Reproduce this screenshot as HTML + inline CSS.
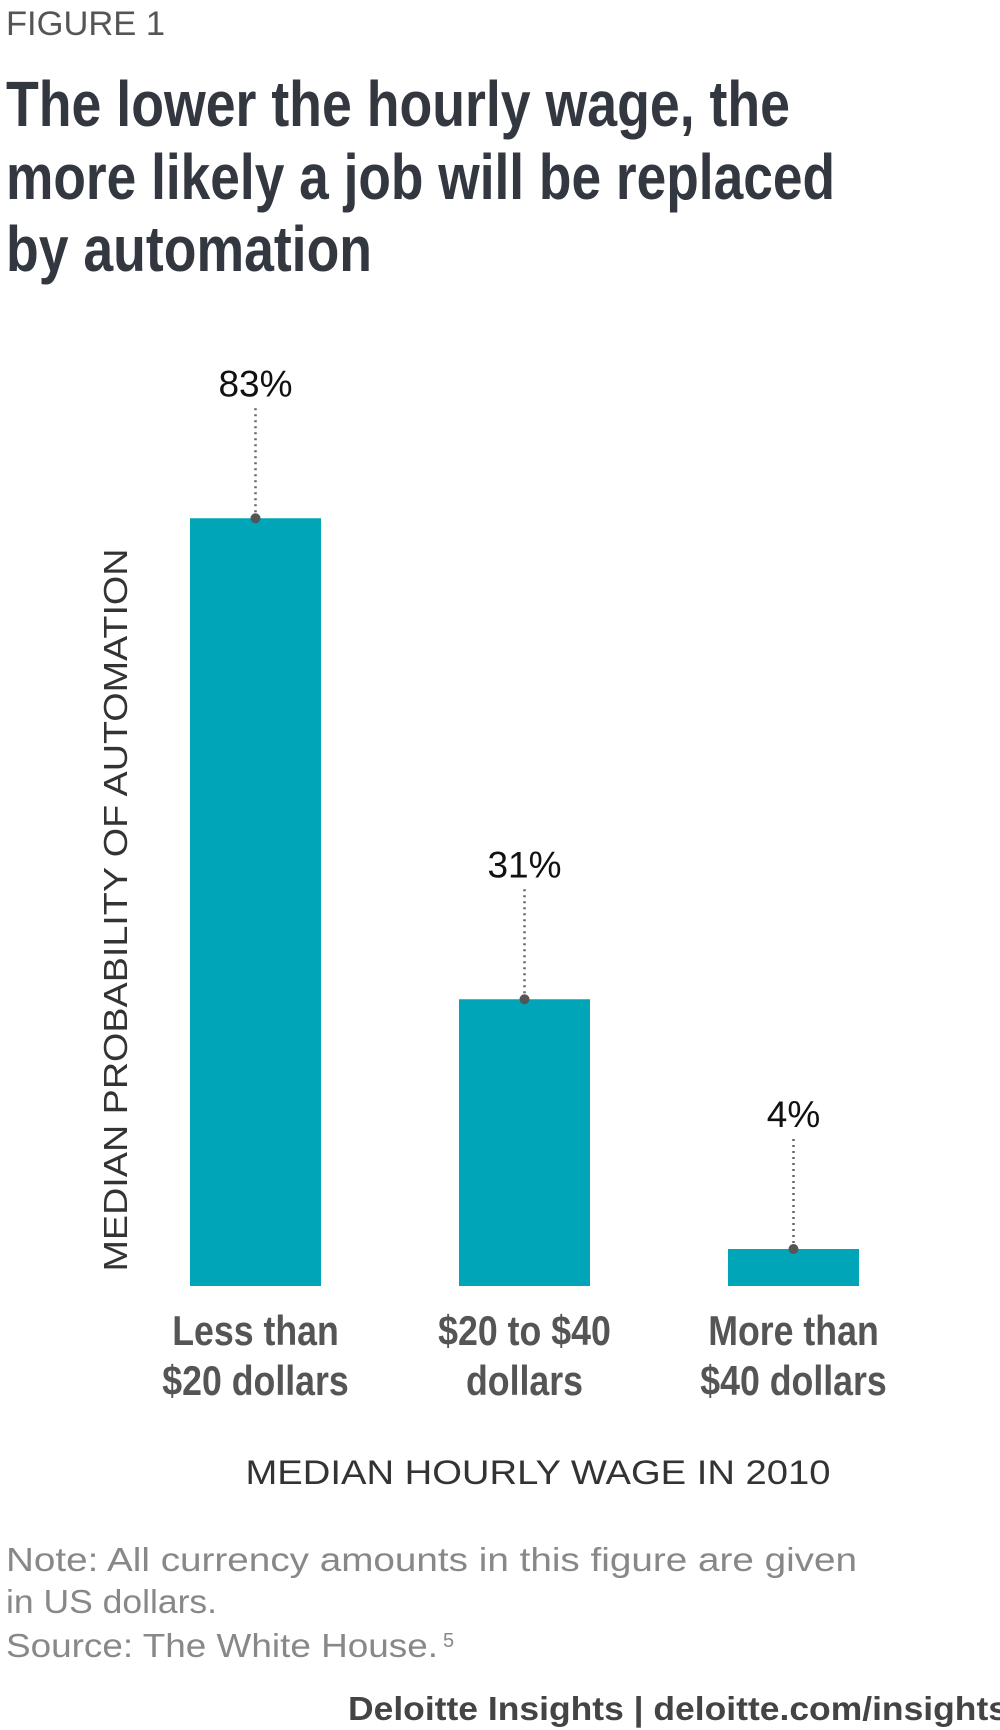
<!DOCTYPE html>
<html><head><meta charset="utf-8"><style>html,body{margin:0;padding:0;background:#fff}svg{display:block}</style></head>
<body>
<svg id="chart" width="1000" height="1730" viewBox="0 0 1000 1730" font-family="Liberation Sans, sans-serif">
<text x="6" y="35" font-size="34" fill="#555" textLength="159" lengthAdjust="spacingAndGlyphs">FIGURE 1</text>
<g font-size="64" font-weight="bold" fill="#333740">
<text x="6" y="126" textLength="784" lengthAdjust="spacingAndGlyphs">The lower the hourly wage, the</text>
<text x="6" y="199" textLength="829" lengthAdjust="spacingAndGlyphs">more likely a job will be replaced</text>
<text x="6" y="271" textLength="366" lengthAdjust="spacingAndGlyphs">by automation</text>
</g>
<text transform="translate(127,910) rotate(-90)" text-anchor="middle" font-size="33" fill="#333" textLength="723" lengthAdjust="spacingAndGlyphs">MEDIAN PROBABILITY OF AUTOMATION</text>
<g id="bars"></g>
<text x="538" y="1484" text-anchor="middle" font-size="34" fill="#333" textLength="585" lengthAdjust="spacingAndGlyphs">MEDIAN HOURLY WAGE IN 2010</text>
<g font-size="33" fill="#888">
<text x="6" y="1571" textLength="851" lengthAdjust="spacingAndGlyphs">Note: All currency amounts in this figure are given</text>
<text x="6" y="1613" textLength="211" lengthAdjust="spacingAndGlyphs">in US dollars.</text>
<text x="6" y="1657" textLength="432" lengthAdjust="spacingAndGlyphs">Source: The White House.</text>
<text x="443" y="1647" font-size="20">5</text>
</g>
<text x="348" y="1720" font-size="33" font-weight="bold" fill="#444" textLength="660" lengthAdjust="spacingAndGlyphs">Deloitte Insights | deloitte.com/insights</text>
</svg>
<script>
const categoriesLine1 = ["Less than", "$20 to $40", "More than"];
const categoriesLine2 = ["$20 dollars", "dollars", "$40 dollars"];
const values = [83, 31, 4];
const valueLabels = ["83%", "31%", "4%"];
const NS = "http://www.w3.org/2000/svg";
const g = document.getElementById("bars");
const baseY = 1286, pxPer = 9.25, firstX = 190, step = 269, barW = 131;
function xPos(i){return firstX + i*step;}
function yPos(v){return baseY - v*pxPer;}
function mk(tag, attrs){const e=document.createElementNS(NS,tag);for(const k in attrs)e.setAttribute(k,attrs[k]);g.appendChild(e);return e;}
values.forEach((v,i)=>{
  const x=xPos(i), y=yPos(v), cx=x+barW/2;
  const r=mk("rect",{x:x,y:y,width:barW,height:baseY-y,fill:"#00A6B7"});
  
  
  const l=mk("line",{x1:cx,y1:y,x2:cx,y2:y-112,stroke:"#666","stroke-width":2.5,"stroke-dasharray":"2 4"});
  
  
  const d=mk("circle",{cx:cx,cy:y,r:5,fill:"#555"});
  
  
  const t=mk("text",{x:cx,y:y-122,"text-anchor":"middle","font-size":"37",fill:"#111"});
  t.textContent=valueLabels[i];
  
  
  const c1=mk("text",{x:cx,y:1345,"text-anchor":"middle","font-size":"42","font-weight":"bold",fill:"#555",transform:`translate(${cx},0) scale(0.85,1) translate(${-cx},0)`});
  c1.textContent=categoriesLine1[i];
  
  
  const c2=mk("text",{x:cx,y:1395,"text-anchor":"middle","font-size":"42","font-weight":"bold",fill:"#555",transform:`translate(${cx},0) scale(0.85,1) translate(${-cx},0)`});
  c2.textContent=categoriesLine2[i];
  
  
});
</script>
</body></html>
